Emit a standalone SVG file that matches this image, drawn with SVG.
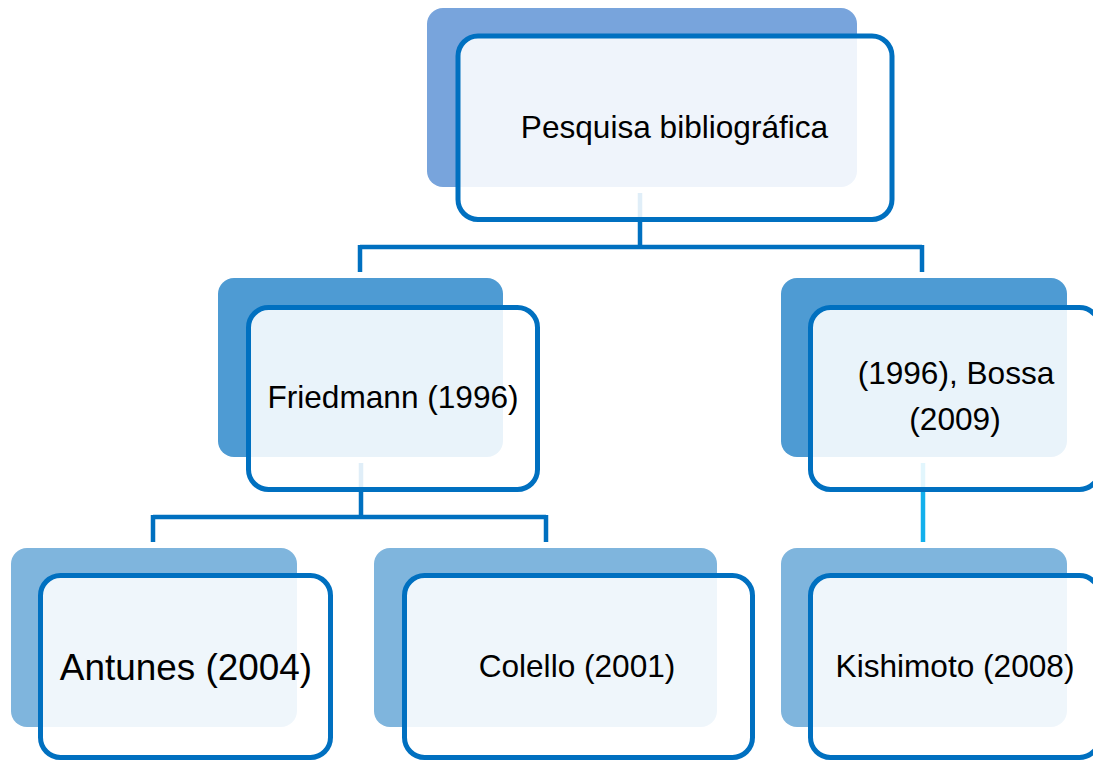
<svg xmlns="http://www.w3.org/2000/svg" width="1093" height="761" viewBox="0 0 1093 761">
<style>
.bg{fill:#ffffff}
.b1{fill:#78a4dc}
.b2{fill:#4e9bd3}
.b3{fill:#7fb5dd}
.fr{fill:#ffffff;fill-opacity:0.88;stroke:#0070c0;stroke-width:5}
.ln{fill:none;stroke:#0070c0;stroke-width:4.5}
.ln2{fill:none;stroke:#13b0ec;stroke-width:4.5}
.t{font-family:"Liberation Sans",Arial,sans-serif;font-size:31.6px;fill:#000000;text-anchor:middle}
</style>
<rect class="bg" x="0" y="0" width="1093" height="761"/>
<g id="back-shapes">
<rect class="b1" x="427" y="8" width="430" height="179" rx="16"/>
<rect class="b2" x="218" y="278" width="285" height="179" rx="16"/>
<rect class="b2" x="781" y="278" width="286" height="179" rx="16"/>
<rect class="b3" x="11" y="548" width="286" height="179" rx="16"/>
<rect class="b3" x="374" y="548" width="343" height="179" rx="16"/>
<rect class="b3" x="781" y="548" width="286" height="179" rx="16"/>
</g>
<g id="connectors">
<path class="ln" d="M640,193 V247 M360,247 H922 M360,245 V272 M922,245 V272"/>
<path class="ln" d="M361,463 V517 M153,517 H546 M153,515 V542 M546,515 V542"/>
<path class="ln2" d="M923,463 V542"/>
</g>
<g id="node-pesquisa">
<rect class="fr" x="458" y="36" width="434" height="183.5" rx="20"/>
<text class="t" x="674.5" y="138">Pesquisa bibliográfica</text>
</g>
<g id="node-friedmann">
<rect class="fr" x="248.5" y="307.5" width="289" height="182" rx="20"/>
<text class="t" x="393" y="408">Friedmann (1996)</text>
</g>
<g id="node-bossa">
<rect class="fr" x="810.5" y="307.5" width="289" height="182" rx="20"/>
<text class="t" x="956" y="384">(1996), Bossa</text>
<text class="t" x="955" y="430">(2009)</text>
</g>
<g id="node-antunes">
<rect class="fr" x="40.5" y="575.5" width="290" height="182" rx="20"/>
<text class="t" x="186" y="680" style="font-size:36.9px">Antunes (2004)</text>
</g>
<g id="node-colello">
<rect class="fr" x="404.5" y="575.5" width="348" height="182" rx="20"/>
<text class="t" x="577" y="677">Colello (2001)</text>
</g>
<g id="node-kishimoto">
<rect class="fr" x="810.5" y="575.5" width="289" height="182" rx="20"/>
<text class="t" x="955" y="677">Kishimoto (2008)</text>
</g>
</svg>
